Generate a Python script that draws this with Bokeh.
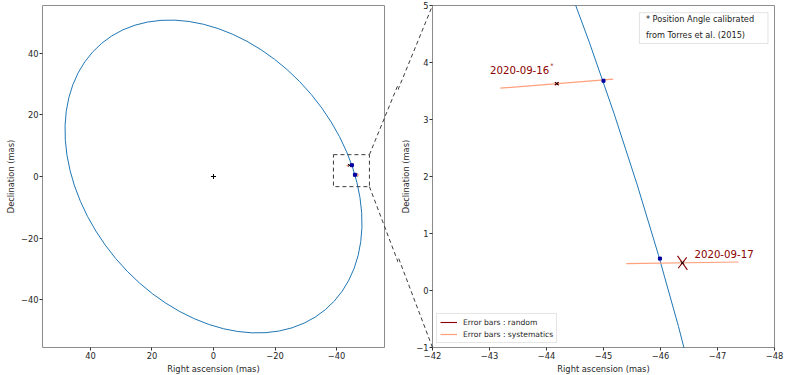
import numpy as np
from bokeh.plotting import figure
from bokeh.layouts import row
from bokeh.models import (Range1d, FixedTicker, Label, BoxAnnotation,
                          Legend, LegendItem, ColumnDataSource)
from bokeh.embed import file_html
from bokeh.resources import INLINE

# ------------------------------------------------------------------ data
# relative orbit (apparent ellipse): centre, full axes (mas), orientation (deg from +RA)
orbit_ra = [0.0]
orbit_dec = [0.0]
orbit_major = [113.1]
orbit_minor = [83.03]
orbit_angle_deg = [50.0]

primary_ra = [0.0]
primary_dec = [0.0]

obs_dates = ["2020-09-16", "2020-09-17"]
obs_ra = [-44.18, -46.385]
obs_dec = [3.63, 0.485]
# systematic error bars (end points)
sys_ra0 = [-43.19, -45.40]
sys_dec0 = [3.55, 0.47]
sys_ra1 = [-45.17, -47.37]
sys_dec1 = [3.71, 0.50]
# random error bars (two axes per epoch)
rnd_ra0 = [-44.145, -44.145, -46.298, -46.31]
rnd_dec0 = [3.655, 3.600, 0.607, 0.39]
rnd_ra1 = [-44.215, -44.215, -46.471, -46.46]
rnd_dec1 = [3.600, 3.655, 0.363, 0.58]

# model positions on the orbit at the two epochs
model_ra = [-45.0, -45.99]
model_dec = [3.68, 0.56]

# zoomed region drawn on the left panel
zoom_ra = [-39.0, -50.7]
zoom_dec = [-3.3, 7.1]

left_lim = 55.6
left_ticks = [-40, -20, 0, 20, 40]
right_xlim = [-42, -48]
right_ylim = [-1, 5]
right_xticks = [-42, -43, -44, -45, -46, -47, -48]
right_yticks = [-1, 0, 1, 2, 3, 4, 5]

note_lines = ["* Position Angle calibrated", "from Torres et al. (2015)"]

# ------------------------------------------------------------------ layout
S = 342          # square frames -> identical px/mas on both axes
BT, BB = 5, 27
B1L, B1R = 42, 14
B2L, B2R = 32, 14
X2 = B1L + S + B1R   # canvas offset of the right figure

FONT = "DejaVu Sans"
BLUE = "#1f77b4"
SYS = "#ffa07a"
RND = "#8b0000"
DASH = "#3c3c3c"


def minus(v):
    return str(v).replace("-", "\u2212")


def make_fig(xr, yr, bl, br, xt, yt):
    p = figure(frame_width=S, frame_height=S,
               x_range=Range1d(xr[0], xr[1]), y_range=Range1d(yr[0], yr[1]),
               output_backend="svg", toolbar_location=None,
               min_border_left=bl, min_border_right=br,
               min_border_top=BT, min_border_bottom=BB)
    p.grid.visible = False
    p.outline_line_color = "#8c8c8c"
    p.outline_line_width = 1
    p.background_fill_color = "white"
    p.border_fill_color = "white"
    p.xaxis.ticker = FixedTicker(ticks=xt)
    p.yaxis.ticker = FixedTicker(ticks=yt)
    p.xaxis.major_label_overrides = {t: minus(t) for t in xt}
    p.yaxis.major_label_overrides = {t: minus(t) for t in yt}
    p.xaxis.axis_label = "Right ascension (mas)"
    p.yaxis.axis_label = "Declination (mas)"
    for ax in p.axis:
        ax.axis_line_color = None
        ax.major_tick_line_color = "#333333"
        ax.major_tick_out = 3
        ax.major_tick_in = 0
        ax.minor_tick_line_color = None
        ax.major_label_text_font = FONT
        ax.major_label_text_font_size = "8.3px"
        ax.major_label_text_color = "#262626"
        ax.major_label_standoff = 1
        ax.axis_label_text_font = FONT
        ax.axis_label_text_font_size = "8.3px"
        ax.axis_label_text_font_style = "normal"
        ax.axis_label_text_color = "#262626"
        ax.axis_label_standoff = 2
    return p


p1 = make_fig((left_lim, -left_lim), (-left_lim, left_lim), B1L, B1R, left_ticks, left_ticks)
p2 = make_fig(tuple(right_xlim), tuple(right_ylim), B2L, B2R, right_xticks, right_yticks)

# x axis reversed -> screen angle is mirrored
orbit_src = ColumnDataSource(dict(x=orbit_ra, y=orbit_dec, w=orbit_major, h=orbit_minor,
                                  a=[np.deg2rad(180.0 - a) for a in orbit_angle_deg]))
sys_src = ColumnDataSource(dict(x0=sys_ra0, y0=sys_dec0, x1=sys_ra1, y1=sys_dec1))
rnd_src = ColumnDataSource(dict(x0=rnd_ra0, y0=rnd_dec0, x1=rnd_ra1, y1=rnd_dec1))
obs_src = ColumnDataSource(dict(x=obs_ra, y=obs_dec))
mod_src = ColumnDataSource(dict(x=model_ra, y=model_dec))

handles = {}
for p in (p1, p2):
    p.ellipse(x="x", y="y", width="w", height="h", angle="a", source=orbit_src,
              fill_color=None, line_color=BLUE, line_width=1)
    r_sys = p.segment(x0="x0", y0="y0", x1="x1", y1="y1", source=sys_src,
                      line_color=SYS, line_width=1.2)
    r_rnd = p.segment(x0="x0", y0="y0", x1="x1", y1="y1", source=rnd_src,
                      line_color=RND, line_width=1.1)
    p.scatter(x="x", y="y", source=obs_src, marker="x", size=4, line_color="black", line_width=1)
    p.scatter(x="x", y="y", source=mod_src, marker="square", size=3,
              fill_color="#0000a0", line_color="#0000a0")
    handles[p] = (r_rnd, r_sys)

p1.scatter(x=primary_ra, y=primary_dec, marker="cross", size=5, line_color="black", line_width=1)
p1.quad(left=[zoom_ra[0]], right=[zoom_ra[1]], bottom=[zoom_dec[0]], top=[zoom_dec[1]],
        fill_color=None, line_color=DASH, line_width=1, line_dash="4 3")


# ---------------------------------------------------------------- connectors
def p1_to_screen(x, y):
    sx = B1L + (left_lim - x) / (2 * left_lim) * S
    sy = BT + (left_lim - y) / (2 * left_lim) * S
    return sx, sy


def screen_to_p1(sx, sy):
    return left_lim - (sx - B1L) / S * 2 * left_lim, left_lim - (sy - BT) / S * 2 * left_lim


def screen_to_p2(sx, sy):
    x = right_xlim[0] + (sx - X2 - B2L) / S * (right_xlim[1] - right_xlim[0])
    y = right_ylim[1] - (sy - BT) / S * (right_ylim[1] - right_ylim[0])
    return x, y


c1 = dict(x0=[], y0=[], x1=[], y1=[])
c2 = dict(x0=[], y0=[], x1=[], y1=[])
for zy, ty, sy_corner in ((zoom_dec[1], right_ylim[1], BT), (zoom_dec[0], right_ylim[0], BT + S)):
    start = (zoom_ra[1], zy)
    tgt_p1 = screen_to_p1(X2 + B2L, sy_corner)
    c1["x0"].append(start[0]); c1["y0"].append(start[1])
    c1["x1"].append(tgt_p1[0]); c1["y1"].append(tgt_p1[1])
    src_p2 = screen_to_p2(*p1_to_screen(*start))
    c2["x0"].append(src_p2[0]); c2["y0"].append(src_p2[1])
    c2["x1"].append(right_xlim[0]); c2["y1"].append(ty)

p1.segment(x0="x0", y0="y0", x1="x1", y1="y1", source=ColumnDataSource(c1),
           line_color=DASH, line_width=1, line_dash="4 3", level="overlay")
p2.segment(x0="x0", y0="y0", x1="x1", y1="y1", source=ColumnDataSource(c2),
           line_color=DASH, line_width=1, line_dash="4 3", level="overlay")

# ---------------------------------------------------------------- labels
p2.add_layout(Label(x=obs_ra[0], y=obs_dec[0], x_offset=-7.5, y_offset=14, text=obs_dates[0],
                    text_align="right", text_baseline="middle", text_font=FONT,
                    text_font_size="10.2px", text_color=RND))
p2.add_layout(Label(x=obs_ra[0], y=obs_dec[0], x_offset=-6.5, y_offset=18, text="*",
                    text_align="left", text_baseline="middle", text_font=FONT,
                    text_font_size="6.5px", text_color=RND))
p2.add_layout(Label(x=obs_ra[1], y=obs_dec[1], x_offset=12, y_offset=9, text=obs_dates[1],
                    text_align="left", text_baseline="middle", text_font=FONT,
                    text_font_size="10.2px", text_color=RND))

dx = right_xlim[1] - right_xlim[0]
dy = right_ylim[1] - right_ylim[0]
box_l, box_r, box_t, box_b = 0.605, 0.981, 0.021, 0.111
p2.add_layout(BoxAnnotation(left=right_xlim[0] + box_l * dx, right=right_xlim[0] + box_r * dx,
                            top=right_ylim[1] - box_t * dy, bottom=right_ylim[1] - box_b * dy,
                            fill_color="white", fill_alpha=1, line_color="#a0a0a0", line_width=1,
                            level="annotation"))
for i, (txt, fy) in enumerate(zip(note_lines, (0.0407, 0.0872))):
    p2.add_layout(Label(x=right_xlim[0] + 0.624 * dx, y=right_ylim[1] - fy * dy, text=txt,
                        text_align="left", text_baseline="middle", text_font=FONT,
                        text_font_size="8.2px", text_color="#1a1a1a"))

r_rnd2, r_sys2 = handles[p2]
legend = Legend(items=[LegendItem(label="Error bars : random", renderers=[r_rnd2]),
                       LegendItem(label="Error bars : systematics", renderers=[r_sys2])],
                location="bottom_left", label_text_font=FONT, label_text_font_size="7.6px",
                label_text_color="#262626",
                glyph_width=17, glyph_height=10, label_height=10, spacing=2, padding=3,
                margin=4, label_standoff=6, border_line_color="#cccccc", border_line_width=1,
                background_fill_alpha=0.8)
p2.add_layout(legend)

layout = row(p1, p2)
open("out.html", "w").write(file_html(layout, INLINE))
